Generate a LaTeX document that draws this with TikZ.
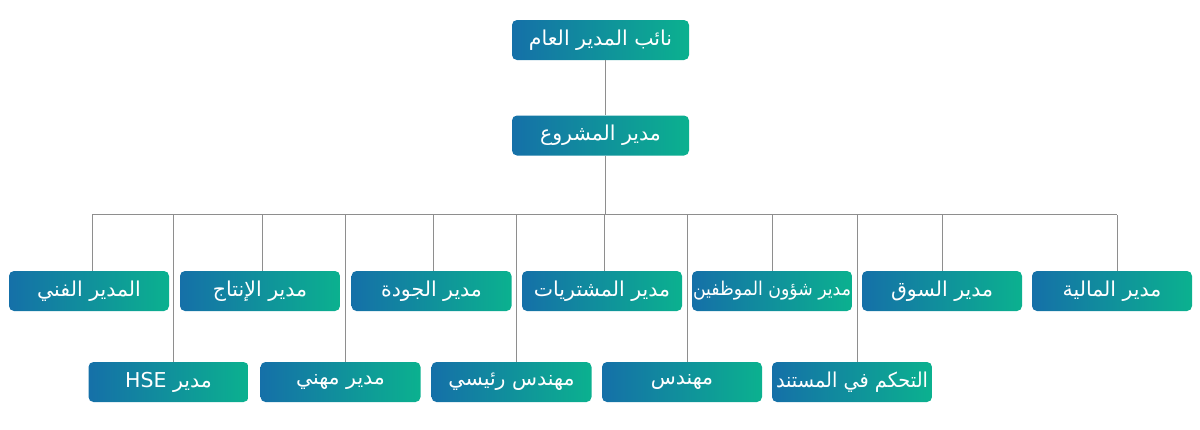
\documentclass[tikz,border=0pt]{standalone}
\usepackage{fontspec}
\TeXXeTstate=1
\newfontfamily\arabicfont[Script=Arabic]{DejaVu Sans}
\definecolor{gblue}{HTML}{1570A8}
\definecolor{ggreen}{HTML}{0BB18F}
\definecolor{linegray}{HTML}{8E8E8E}
\tikzset{
  box/.style={rounded corners=5pt, left color=gblue, right color=ggreen,
    minimum width=160pt, minimum height=40pt, inner sep=0pt,
    text=white, font=\arabicfont\fontsize{20.5}{24}\selectfont},
  bigbox/.style={box, minimum width=177pt, font=\arabicfont\fontsize{20.5}{24}\selectfont},
  conn/.style={draw=linegray, line width=1pt}
}
\newcommand{\ar}[1]{\beginR #1\endR}
\begin{document}
\begin{tikzpicture}[x=1pt,y=-1pt]
\useasboundingbox (0,0) rectangle (1200,429);
\node[bigbox] (gm) at (600.5,40) {\ar{نائب المدير العام}};
\node[bigbox] (pm) at (600.5,135.5) {\ar{مدير المشروع}};
% row 1
\node[box] (r1) at (89,291) {\ar{المدير الفني}};
\node[box] (r2) at (260,291) {\ar{مدير الإنتاج}};
\node[box] (r3) at (431.5,291) {\ar{مدير الجودة}};
\node[box] (r4) at (602,291) {\ar{مدير المشتريات}};
\node[box] (r5) at (772,291) {\resizebox{158pt}{\height}{\fontsize{19}{22}\selectfont\ar{مدير شؤون الموظفين}}};
\node[box] (r6) at (942,291) {\ar{مدير السوق}};
\node[box] (r7) at (1112,291) {\ar{مدير المالية}};
% row 2
\node[box] (s1) at (168.5,382) {\ar{مدير \beginL HSE\endL}};
\node[box] (s2) at (340.5,382) {\ar{مدير مهني}};
\node[box] (s3) at (511.5,382) {\ar{مهندس رئيسي}};
\node[box] (s4) at (682,382) {\ar{مهندس}};
\node[box] (s5) at (852,382) {\resizebox{152pt}{\height}{\ar{التحكم في المستند}}};
% bus
\coordinate (busL) at (92,214.5);
\coordinate (busR) at (1117,214.5);
\coordinate (gmb) at ([xshift=4.5pt]gm.south);
\coordinate (pmt) at ([xshift=4.5pt]pm.north);
\coordinate (pmb) at ([xshift=4.5pt]pm.south);
\draw[conn] (gmb) -- (pmt);
\draw[conn] (pmb) -- (pmb |- busL);
\draw[conn] (busL) -- (busR);
\draw[conn] ([xshift=3pt]r1.north) -- ([xshift=3pt]r1.north |- busL);
\draw[conn] ([xshift=2pt]r2.north) -- ([xshift=2pt]r2.north |- busL);
\draw[conn] ([xshift=1.5pt]r3.north) -- ([xshift=1.5pt]r3.north |- busL);
\draw[conn] ([xshift=2pt]r4.north) -- ([xshift=2pt]r4.north |- busL);
\draw[conn] (r5.north) -- (r5.north |- busL);
\draw[conn] (r6.north) -- (r6.north |- busL);
\draw[conn] ([xshift=5pt]r7.north) -- ([xshift=5pt]r7.north |- busL);
\foreach \s in {s1,s2,s3,s4,s5}{
  \draw[conn] ([xshift=5pt]\s.north) -- ([xshift=5pt]\s.north |- busL);
}
\end{tikzpicture}
\end{document}
